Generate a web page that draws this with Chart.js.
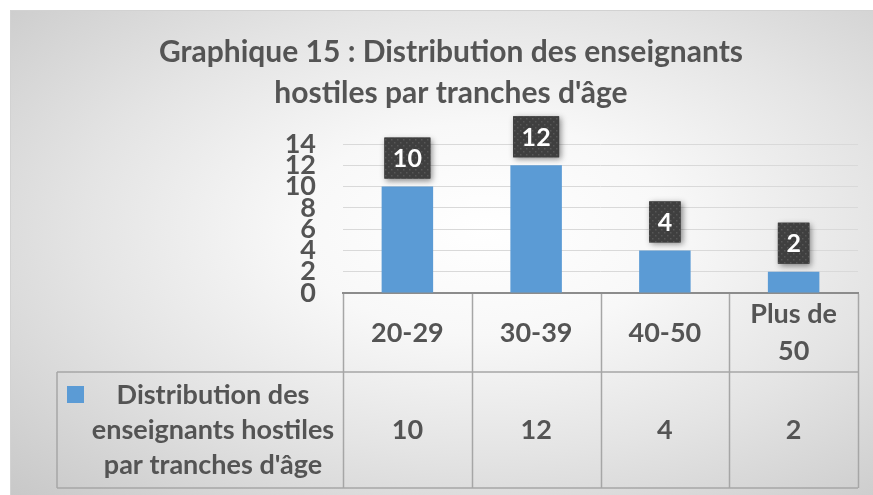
<!DOCTYPE html>
<html><head><meta charset="utf-8">
<script src="https://cdn.jsdelivr.net/npm/chart.js@4.4.1/dist/chart.umd.min.js"></script>
<style>
html,body{margin:0;padding:0;background:#fff;overflow:hidden}
#frame{position:absolute;left:10px;top:10px;width:863px;height:485px;box-sizing:border-box;
background:radial-gradient(ellipse farthest-corner at 55% 45%, #ffffff 0%, #f8f8f8 28%, #e4e4e4 60%, #c8c8c8 100%);
border-left:1px solid #d2d2d2;border-top:1px solid #d2d2d2;}
#c{position:absolute;left:0;top:0;width:873px;height:495px}
</style></head><body>
<div id="frame"></div>
<canvas id="c" width="873" height="495"></canvas>
<script>
// ---- data ----
const chartTitle = ["Graphique 15 : Distribution des enseignants", "hostiles par tranches d'âge"];
const categories = [["20-29"], ["30-39"], ["40-50"], ["Plus de", "50"]];
const values = [10, 12, 4, 2];
const seriesLabel = ["Distribution des", "enseignants hostiles", "par tranches d'âge"];
const yTicks = [0, 2, 4, 6, 8, 10, 12, 14];

// ---- style ----
const FONT = "Lato, 'Open Sans', 'DejaVu Sans', sans-serif";
const TEXT = '#545454';
const BAR = '#5B9BD5';
const LINE = '#a6a6a6';

function dotPattern(ctx){
  const p = document.createElement('canvas'); p.width = 6; p.height = 6;
  const g = p.getContext('2d');
  g.fillStyle = '#3f3f3f'; g.fillRect(0,0,6,6);
  g.fillStyle = '#575757'; g.fillRect(1,1,1.5,1.5); g.fillRect(4,4,1.5,1.5);
  return ctx.createPattern(p, 'repeat');
}

const drawPlugin = {
  id: 'drawExtras',
  beforeDraw(chart){
    const ctx = chart.ctx;
    ctx.save();
    ctx.fillStyle = TEXT;
    ctx.font = 'bold 30px ' + FONT;
    ctx.textAlign = 'center'; ctx.textBaseline = 'middle';
    ctx.fillText(chartTitle[0], 451, 52);
    ctx.fillText(chartTitle[1], 451, 93);
    ctx.restore();
  },
  afterDatasetsDraw(chart){
    const ctx = chart.ctx;
    const meta = chart.getDatasetMeta(0);
    const pat = dotPattern(ctx);
    ctx.save();
    ctx.font = 'bold 25px ' + FONT;
    meta.data.forEach((el, i) => {
      const txt = String(values[i]);
      const tw = ctx.measureText(txt).width;
      const w = tw + 17, h = 41;
      const bx = el.x - w/2, by = el.y - 8 - h;
      ctx.save();
      ctx.shadowColor = 'rgba(0,0,0,0.45)';
      ctx.shadowBlur = 6; ctx.shadowOffsetX = 2; ctx.shadowOffsetY = 2;
      ctx.fillStyle = '#404040';
      ctx.fillRect(bx, by, w, h);
      ctx.restore();
      ctx.fillStyle = pat;
      ctx.fillRect(bx, by, w, h);
      ctx.fillStyle = '#ffffff';
      ctx.textAlign = 'center'; ctx.textBaseline = 'middle';
      ctx.fillText(txt, el.x, by + h/2 + 1);
    });
    ctx.restore();
  },
  afterDraw(chart){
    const ctx = chart.ctx;
    const ca = chart.chartArea;
    const xs = chart.scales.x;
    const n = categories.length;
    const colW = (ca.right - ca.left) / n;
    const top = ca.bottom + 1, mid = top + 78, bottom = mid + 116;
    const tableLeft = 57;
    ctx.save();
    ctx.strokeStyle = LINE; ctx.lineWidth = 1.5;
    ctx.beginPath();
    for (let i = 0; i <= n; i++) {
      const xx = Math.round(ca.left + i * colW) + 0.5;
      ctx.moveTo(xx, top); ctx.lineTo(xx, bottom);
    }
    ctx.moveTo(tableLeft, mid); ctx.lineTo(ca.right, mid);
    ctx.moveTo(tableLeft, bottom); ctx.lineTo(ca.right, bottom);
    ctx.moveTo(tableLeft, mid); ctx.lineTo(tableLeft, bottom);
    ctx.stroke();

    ctx.fillStyle = TEXT;
    ctx.font = 'bold 27px ' + FONT;
    ctx.textAlign = 'center'; ctx.textBaseline = 'middle';
    const hc = (top + mid) / 2, dc = (mid + bottom) / 2;
    categories.forEach((lines, i) => {
      const cx = xs.getPixelForValue(i);
      const lh = 37;
      lines.forEach((l, k) => {
        ctx.fillText(l, cx, hc + (k - (lines.length - 1) / 2) * lh);
      });
      ctx.fillText(String(values[i]), cx, dc);
    });
    // legend
    ctx.fillStyle = BAR;
    ctx.fillRect(67, mid + 14, 17, 17);
    ctx.fillStyle = TEXT;
    seriesLabel.forEach((l, k) => {
      ctx.fillText(l, 213, dc + (k - 1) * 35);
    });
    ctx.restore();
  }
};

new Chart(document.getElementById('c'), {
  type: 'bar',
  data: {
    labels: categories,
    datasets: [{
      label: seriesLabel.join(' '),
      data: values,
      backgroundColor: BAR,
      categoryPercentage: 1,
      barPercentage: 0.4
    }]
  },
  options: {
    responsive: false,
    animation: false,
    layout: { padding: { left: 0, right: 15, top: 144, bottom: 202 } },
    plugins: { legend: { display: false }, title: { display: false }, tooltip: { enabled: false } },
    scales: {
      x: {
        ticks: { display: false },
        grid: { display: false, drawTicks: false },
        border: { display: true, color: '#8c8c8c', width: 2 },
        afterFit(s){ s.height = 0; }
      },
      y: {
        min: 0, max: 14,
        afterBuildTicks(s){ s.ticks = yTicks.map(v => ({ value: v })); },
        ticks: { autoSkip: false, padding: 27, color: TEXT, font: { family: FONT, size: 27, weight: 'bold' } },
        grid: { color: '#d9d9d9', lineWidth: 1, drawTicks: false, tickLength: 0 },
        border: { display: false },
        afterFit(s){ s.width = 343; }
      }
    }
  },
  plugins: [drawPlugin]
});
</script>
</body></html>
